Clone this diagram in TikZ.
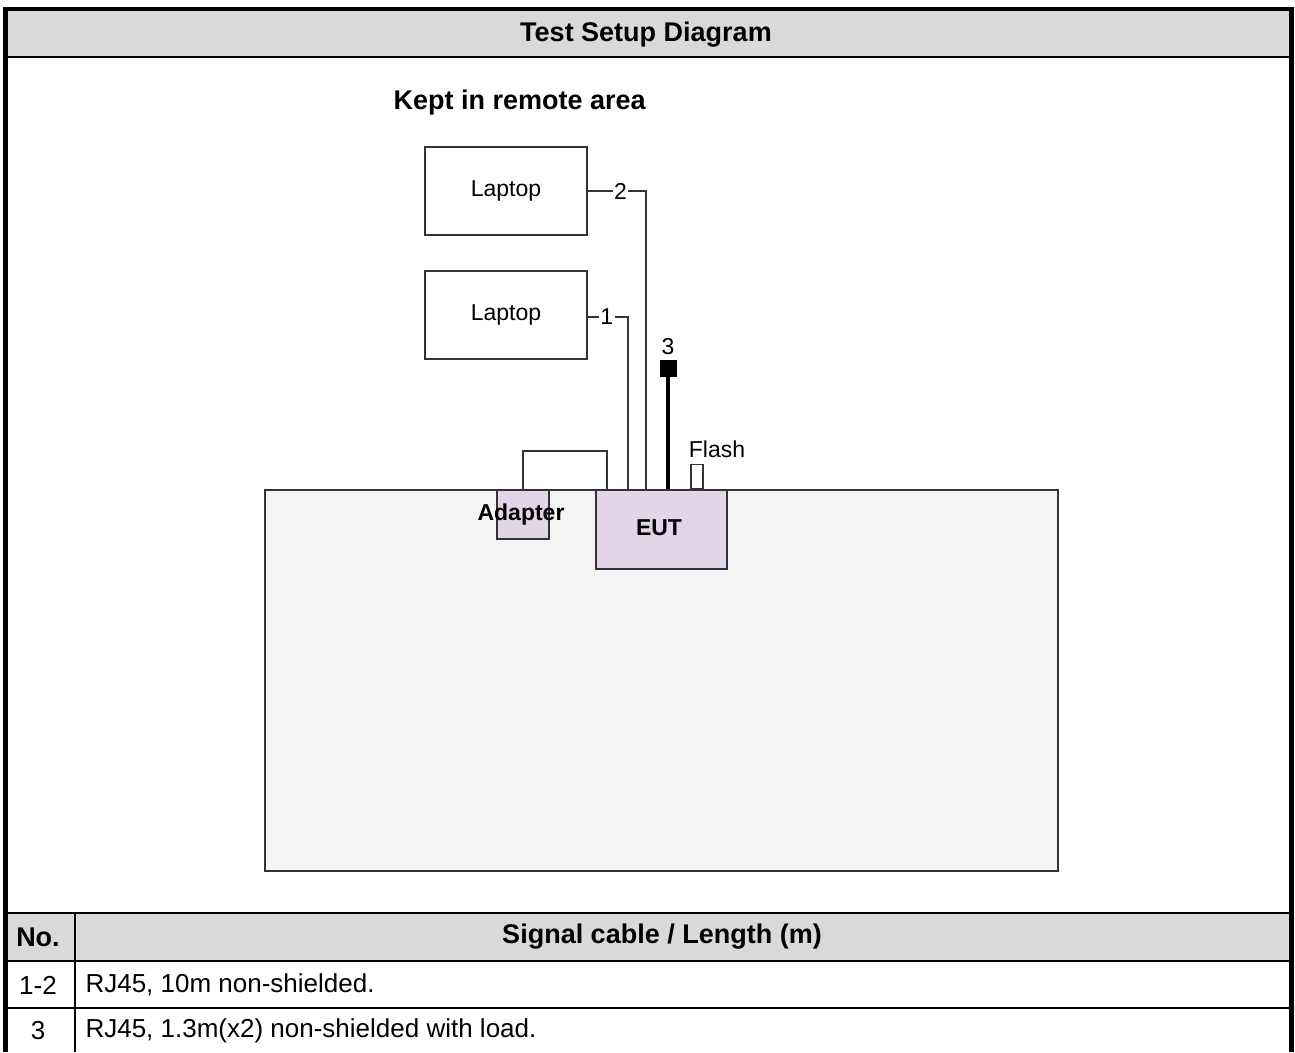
\documentclass[tikz,border=0pt]{standalone}
\usepackage{fontspec}
\setmainfont{Liberation Sans}
\usetikzlibrary{positioning,calc}

\definecolor{bandgray}{HTML}{D9D9D9}
\definecolor{tablefill}{HTML}{F4F4F4}
\definecolor{lilac}{HTML}{E1D5E7}
\definecolor{edge}{HTML}{333333}

\begin{document}
\begin{tikzpicture}[x=1pt,y=-1pt,
    box/.style={
      draw=edge, line width=1.6pt, fill=white,
      minimum width=162pt, minimum height=88pt,
      font=\fontsize{23}{23}\selectfont
    },
    part/.style={draw=edge, line width=1.6pt, fill=lilac, inner sep=0pt},
    cable/.style={draw=edge, line width=1.6pt},
    load/.style={draw=black, line width=3.3pt},
    num/.style={fill=white, inner sep=1.5pt, font=\fontsize{23}{23}\selectfont},
    small/.style={font=\fontsize{23}{23}\selectfont},
    head/.style={font=\bfseries\fontsize{27}{27}\selectfont},
    cell/.style={font=\fontsize{26}{26}\selectfont},
    frame/.style={draw=black, line width=5pt},
    rule/.style={draw=black, line width=2.5pt}
  ]
  \useasboundingbox (0,0) rectangle (1295,1052);

  % Bands
  \fill[bandgray] (8,10) rectangle (1289,57);
  \fill[bandgray] (75,913) rectangle (1289,961);
  \fill[bandgray] (8,913) rectangle (75,961);

  % Title
  \node[head] (title) at (646,35) {Test Setup Diagram};

  % Remote side
  \node[head, anchor=west] (remote) at (390,103) {Kept in remote area};
  \node[box] (lap2) at (506,191) {Laptop};
  \node[box] (lap1) at (506,315) {Laptop};

  % Table with equipment
  \node[draw=edge, line width=1.8pt, fill=tablefill, minimum width=793pt,
        minimum height=381pt, anchor=north west] (desk) at (264,489) {};

  \node[part, minimum width=131pt, minimum height=79pt, anchor=north west,
        font=\bfseries\fontsize{23}{23}\selectfont] (eut) at (595,489) {};
  \node[font=\bfseries\fontsize{23}{23}\selectfont] at (659,528) {EUT};
  \node[part, minimum width=52pt, minimum height=49pt, anchor=north west] (adapter) at (496,489) {};
  \node[font=\bfseries\fontsize{23}{23}\selectfont] at (521,515) {Adapter};

  % Flash
  \node[draw=edge, line width=1.4pt, fill=white, minimum width=12pt,
        minimum height=24pt, inner sep=0pt, anchor=south] (flash) at (697,489) {};
  \node[small] at (717,449) {Flash};

  % Key coordinates for the cables
  \coordinate (c2) at (646,191);
  \coordinate (c1) at (628,317);
  \coordinate (c3) at (668,368);

  % Cables 1 and 2
  \draw[cable] (lap2.east) -- node[num, pos=0.56] {2} (c2) -- (c2 |- eut.north);
  \draw[cable] (lap1.east |- c1) -- node[num, pos=0.47] {1} (c1) -- (c1 |- eut.north);

  % Cable 3 with load
  \draw[load] (c3 |- eut.north) -- (c3);
  \node[fill=black, minimum size=17pt, inner sep=0pt] (end3) at (c3) {};
  \node[small, above=1pt of end3] {3};

  % Adapter cable
  \draw[cable] (adapter.north) -- ++(0,-38) -| ($(eut.north west)+(12,0)$);

  % Lower table
  \node[head] (colno) at (38,937) {No.};
  \node[head] (colcab) at (662,937) {Signal cable / Length (m)};
  \node[cell] (n1) at (38,985) {1-2};
  \node[cell, anchor=west] (t1) at (82,985) {RJ45, 10m non-shielded.};
  \node[cell] (n2) at (38,1031) {3};
  \node[cell, anchor=west] (t2) at (82,1031) {RJ45, 1.3m(x2) non-shielded with load.};

  \draw[draw=black, line width=2pt] (8,913) -- (1289,913);
  \draw[rule] (8,961) -- (1289,961);
  \draw[rule] (8,1008) -- (1289,1008);
  \draw[draw=black, line width=2pt] (75,913) -- (75,1052);
  \draw[draw=black, line width=2.5pt] (8,57) -- (1289,57);

  % Outer frame
  \draw[draw=black, line width=4pt] (3,8.5) -- (1294,8.5);
  \draw[frame] (5.5,6.5) -- (5.5,1052);
  \draw[frame] (1291.5,6.5) -- (1291.5,1052);
\end{tikzpicture}
\end{document}
